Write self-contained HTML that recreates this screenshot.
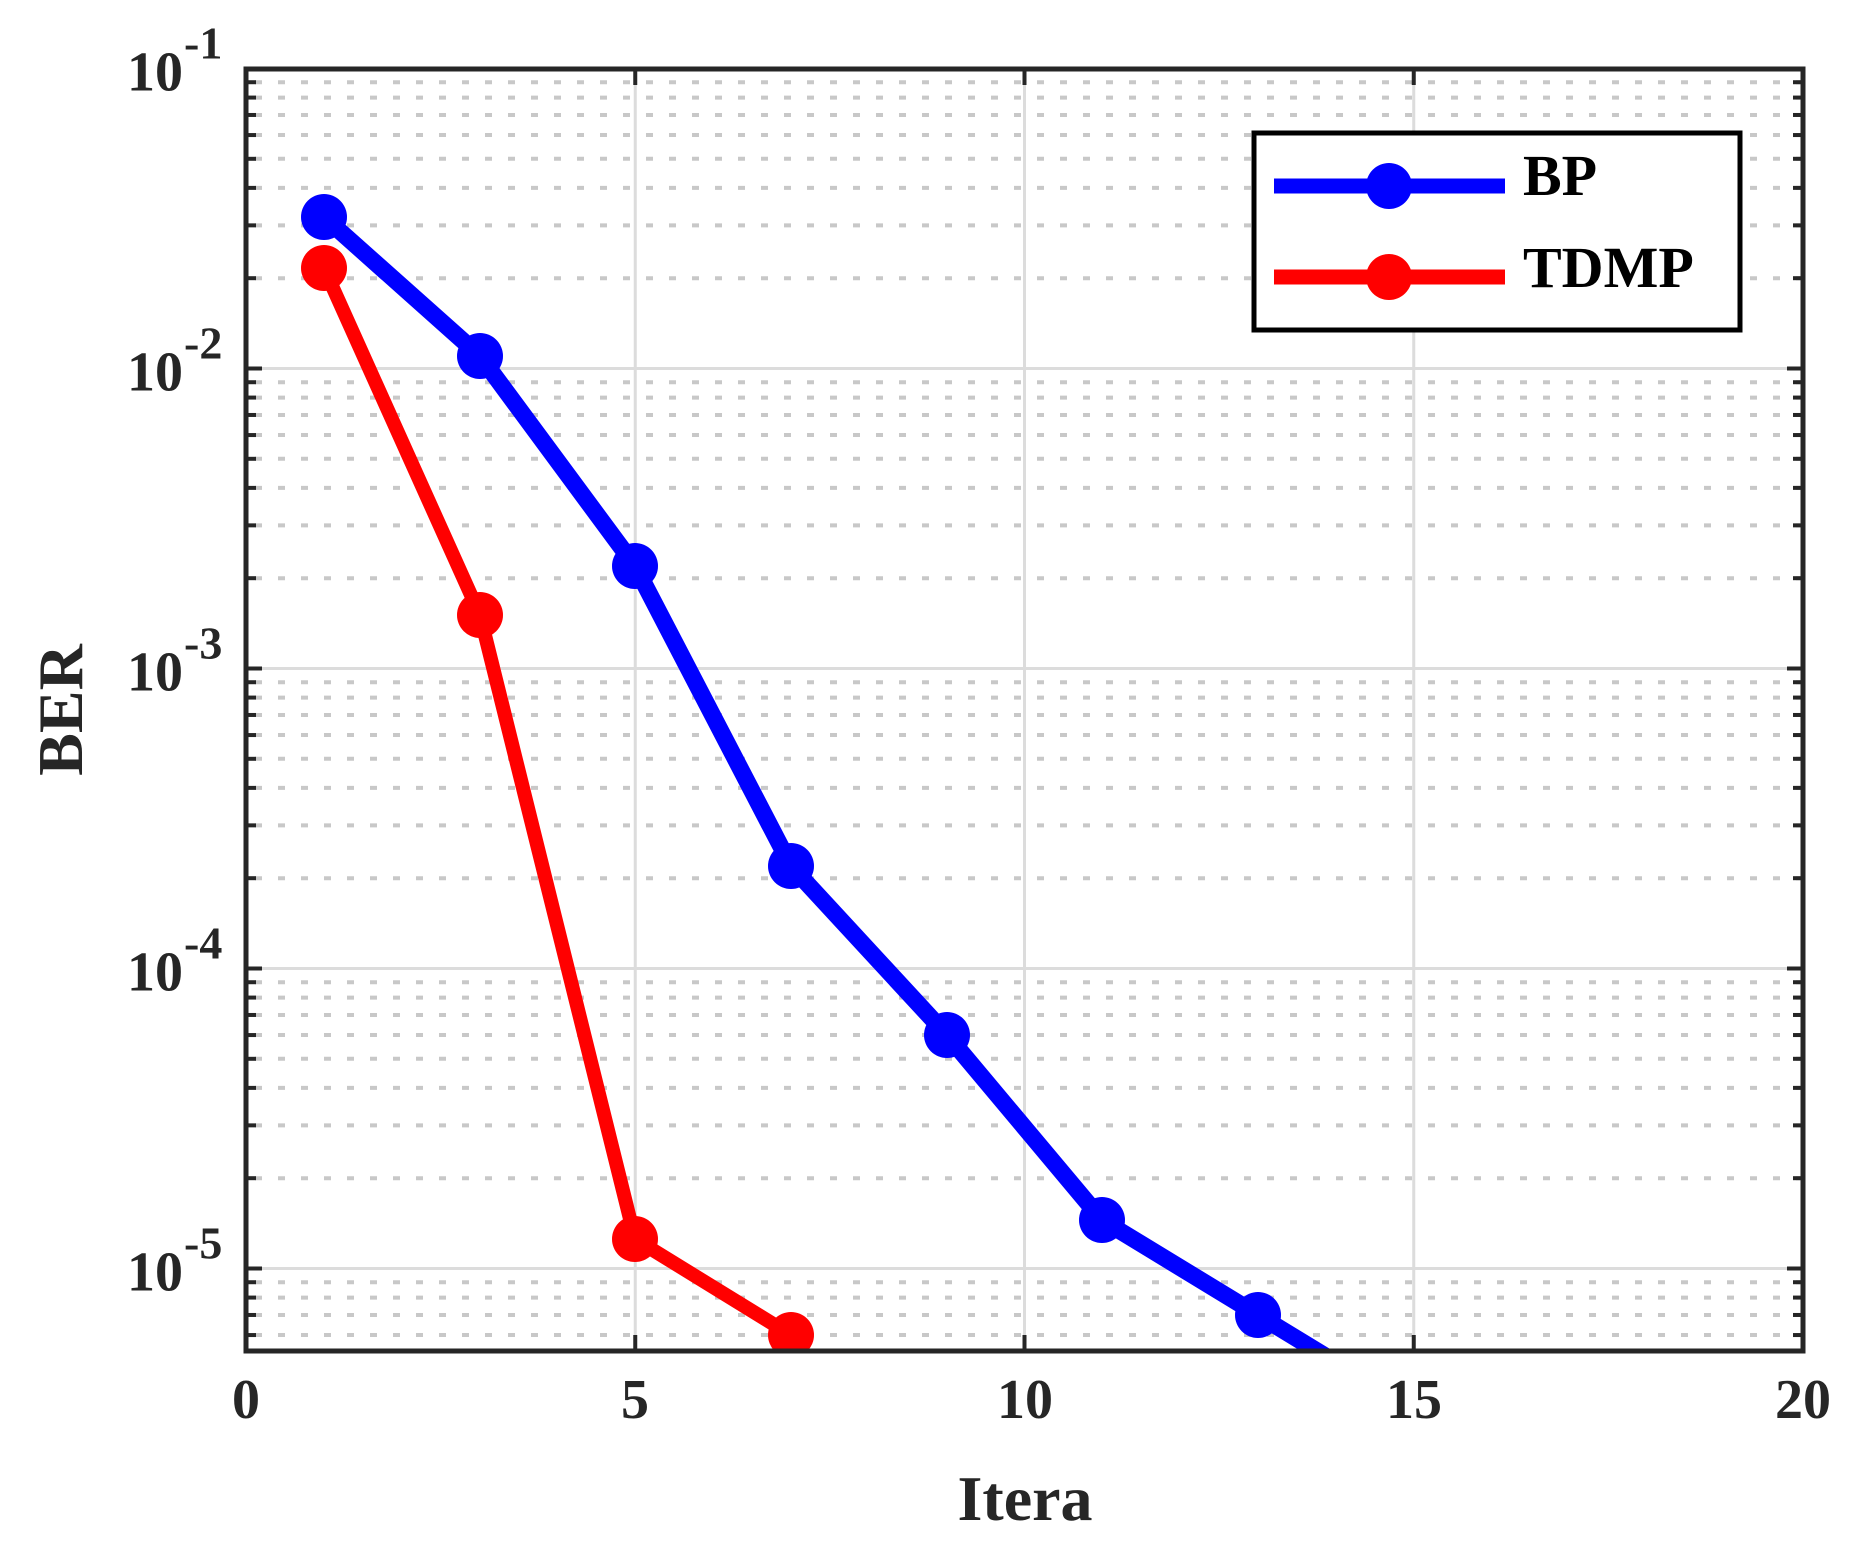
<!DOCTYPE html>
<html><head><meta charset="utf-8"><style>html,body{margin:0;padding:0;background:#fff}</style></head>
<body>
<svg width="1858" height="1538" xmlns="http://www.w3.org/2000/svg" font-family="Liberation Serif, serif" font-weight="bold">
<rect width="1858" height="1538" fill="#fff"/>
<defs><clipPath id="c"><rect x="246" y="69" width="1557" height="1282"/></clipPath></defs>
<g id="grid"></g>
<g clip-path="url(#c)" stroke-linejoin="round">
<polyline fill="none" stroke="#0000ff" stroke-width="17" points="324,217 480,356 635,566 791,866 947,1035 1102,1220 1258,1315 1414,1410"/>
<polyline fill="none" stroke="#ff0000" stroke-width="14" points="324,268 480,615 635,1239 791,1335"/>
<g fill="#0000ff"><circle cx="324" cy="217" r="23"/><circle cx="480" cy="356" r="23"/><circle cx="635" cy="566" r="23"/><circle cx="791" cy="866" r="23"/><circle cx="947" cy="1035" r="23"/><circle cx="1102" cy="1220" r="23"/><circle cx="1258" cy="1315" r="23"/></g>
<g fill="#ff0000"><circle cx="324" cy="268" r="23"/><circle cx="480" cy="615" r="23"/><circle cx="635" cy="1239" r="23"/><circle cx="791" cy="1335" r="23"/></g>
</g>
<rect x="246" y="69" width="1557" height="1282" fill="none" stroke="#262626" stroke-width="5"/>
<g id="ticks"></g>
<rect x="1254" y="133" width="486" height="197" fill="#fff" stroke="#000" stroke-width="5"/>
<line x1="1274" y1="186" x2="1505" y2="186" stroke="#0000ff" stroke-width="15"/>
<circle cx="1389" cy="186" r="23" fill="#0000ff"/>
<line x1="1274" y1="277" x2="1505" y2="277" stroke="#ff0000" stroke-width="15"/>
<circle cx="1389" cy="277" r="23" fill="#ff0000"/>
<text x="1523" y="195" font-size="58" fill="#000">BP</text>
<text x="1523" y="287" font-size="58" fill="#000">TDMP</text>
<g fill="#262626" font-size="56" text-anchor="middle">
<text x="246" y="1418">0</text><text x="635" y="1418">5</text><text x="1025" y="1418">10</text><text x="1414" y="1418">15</text><text x="1803" y="1418">20</text>
<text x="1025" y="1520" font-size="64">Itera</text>
<text transform="translate(82,710) rotate(-90)" font-size="64">BER</text>
</g>
<g fill="#262626" font-size="56" text-anchor="start" id="yl"></g>
<script>
var ns="http://www.w3.org/2000/svg";
function el(p,t,a,txt){var e=document.createElementNS(ns,t);for(var k in a)e.setAttribute(k,a[k]);if(txt)e.textContent=txt;p.appendChild(e);return e;}
var g=document.getElementById('grid'),tk=document.getElementById('ticks'),yl=document.getElementById('yl');
function Y(v){return 68.5+(-1-Math.log10(v))*300;}
for(var d=-6;d<=-2;d++){for(var m=2;m<=9;m++){var v=m*Math.pow(10,d),y=Y(v);if(y<69||y>1351)continue;
el(g,'line',{x1:246,x2:1803,y1:y,y2:y,stroke:'#c8c8c8','stroke-width':4,'stroke-dasharray':'7 16','stroke-dashoffset':-9});
el(tk,'line',{x1:246,x2:256,y1:y,y2:y,stroke:'#262626','stroke-width':4});
el(tk,'line',{x1:1793,x2:1803,y1:y,y2:y,stroke:'#262626','stroke-width':4});}}
for(var e=-2;e>=-5;e--){var y=Y(Math.pow(10,e));
el(g,'line',{x1:246,x2:1803,y1:y,y2:y,stroke:'#dcdcdc','stroke-width':3});
el(tk,'line',{x1:246,x2:262,y1:y,y2:y,stroke:'#262626','stroke-width':4});
el(tk,'line',{x1:1787,x2:1803,y1:y,y2:y,stroke:'#262626','stroke-width':4});}
for(var i=1;i<4;i++){var x=246+i*389.25;
el(g,'line',{x1:x,x2:x,y1:69,y2:1351,stroke:'#dcdcdc','stroke-width':3});
el(tk,'line',{x1:x,x2:x,y1:69,y2:85,stroke:'#262626','stroke-width':4});
el(tk,'line',{x1:x,x2:x,y1:1335,y2:1351,stroke:'#262626','stroke-width':4});}
for(var e=-1;e>=-5;e--){var y=Y(Math.pow(10,e))+22;
el(yl,'text',{x:127,y:y},'10');
el(yl,'text',{x:184,y:y-32,'font-size':46},''+e);}
</script>
</svg>
</body></html>
